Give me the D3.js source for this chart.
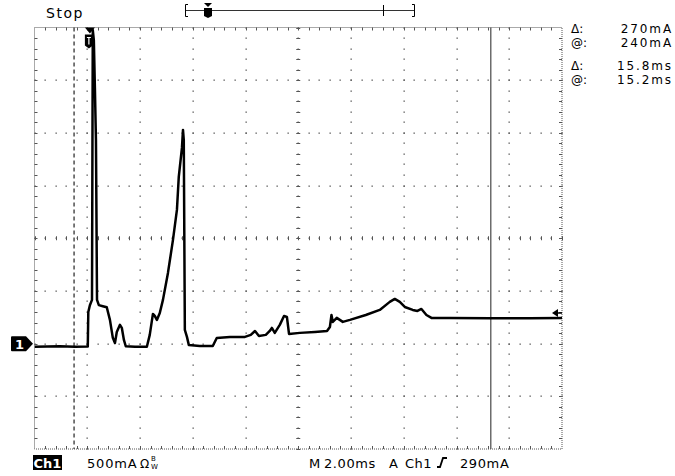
<!DOCTYPE html>
<html><head><meta charset="utf-8">
<script src="https://cdn.jsdelivr.net/npm/d3@7"></script>
<style>
html,body{margin:0;padding:0;background:#fff;}
svg{display:block;font-family:"DejaVu Sans","Liberation Sans",Arial,sans-serif;}
</style></head><body>
<svg id="scope" width="675" height="476"></svg>
<script>
// Channel 1 acquisition: current (mA) against time from the trigger point (ms)
const timeMs = [-2.1, -1.14, -0.57, -0.08, -0.06, 0.00, 0.08, 0.11, 0.15, 0.19, 0.23, 0.27,
  0.34, 0.49, 0.64, 0.76, 0.87, 0.95, 1.02, 1.14, 1.21, 1.29, 1.36, 1.71, 2.16, 2.27, 2.39,
  2.46, 2.54, 2.65, 2.77, 2.96, 3.15, 3.30, 3.37, 3.49, 3.53, 3.56, 3.60, 3.68, 3.75, 4.17,
  4.66, 4.81, 5.31, 5.88, 6.10, 6.26, 6.41, 6.67, 6.82, 6.90, 7.01, 7.20, 7.36, 7.47, 7.55,
  7.96, 8.53, 8.99, 9.10, 9.16, 9.21, 9.36, 9.59, 9.86, 10.46, 10.99, 11.37, 11.56, 11.75,
  11.94, 12.24, 12.42, 12.57, 12.76, 12.95, 13.65, 15.17, 16.68, 17.9];
const currentMa = [-30, -25, -30, -28, 300, 365, 415, 2976, 2880, 2425, 1930, 415,
  365, 355, 345, 225, 55, 5, 110, 178, 150, 35, -25, -30, -30, 83, 282,
  263, 225, 291, 415, 671, 984, 1269, 1582, 1857, 2028, 1933, 130, 64, -12, -22,
  -22, 54, 64, 64, 83, 120, 73, 83, 120, 149, 102, 178, 263, 253, 92,
  102, 111, 120, 158, 272, 206, 244, 206, 225, 272, 320, 396, 424, 396,
  348, 320, 310, 329, 272, 244, 244, 240, 240, 242];

const xDomainMs = [-2.1, 17.9];     // 2.00 ms/div, 10 divisions
const yDomainMa = [-1000, 3000];    // 500 mA/div, 8 divisions
const hDivs = 10, vDivs = 8, minorPerDiv = 5;
const cursorTimesMs = [-0.6, 15.2];
const triggerLevelMa = 290;
const readoutLabels = ["\u0394:", "@:", "\u0394:", "@:"];
const readoutValues = ["270mA", "240mA", "15.8ms", "15.2ms"];

const svg = d3.select("#scope");
const X0 = 34.5, X1 = 562, Y0 = 27.5, Y1 = 449;
const x = d3.scaleLinear().domain(xDomainMs).range([X0, X1]);
const y = d3.scaleLinear().domain(yDomainMa).range([Y1, Y0]);
const divX = d3.scaleLinear().domain([0, hDivs]).range([X0, X1]);
const divY = d3.scaleLinear().domain([0, vDivs]).range([Y0, Y1]);
const ink = "#000", gridInk = "#555";

// graticule dots along each interior division line
const g = svg.append("g");
const dots = [];
for (let i = 1; i < hDivs; i++) {
  for (let j = 0; j <= vDivs * minorPerDiv; j++) dots.push([divX(i), divY(j / minorPerDiv)]);
}
for (let j = 1; j < vDivs; j++) {
  for (let i = 0; i <= hDivs * minorPerDiv; i++) dots.push([divX(i / minorPerDiv), divY(j)]);
}
g.selectAll("rect.dot").data(dots).join("rect").attr("class", "dot")
  .attr("x", d => Math.round(d[0]) - 0.5).attr("y", d => Math.round(d[1]) - 0.5)
  .attr("width", 1.3).attr("height", 1.3).attr("fill", gridInk);

// centre crosshair minor ticks
const cx = divX(hDivs / 2), cy = divY(vDivs / 2);
for (let j = 0; j <= vDivs * minorPerDiv; j++) {
  const yy = Math.round(divY(j / minorPerDiv)) + 0.5;
  g.append("line").attr("x1", cx - 2).attr("x2", cx + 2).attr("y1", yy).attr("y2", yy)
    .attr("stroke", gridInk).attr("stroke-width", 1);
}
for (let i = 0; i <= hDivs * minorPerDiv; i++) {
  const xx = Math.round(divX(i / minorPerDiv)) + 0.5;
  g.append("line").attr("x1", xx).attr("x2", xx).attr("y1", cy - 2).attr("y2", cy + 2)
    .attr("stroke", gridInk).attr("stroke-width", 1);
}

// dotted border with inward minor ticks
g.append("rect").attr("x", X0).attr("y", Y0).attr("width", X1 - X0).attr("height", Y1 - Y0)
  .attr("fill", "none").attr("stroke", gridInk).attr("stroke-width", 1).attr("stroke-dasharray", "1,1");
for (let i = 1; i < hDivs * minorPerDiv; i++) {
  const xx = Math.round(divX(i / minorPerDiv)) + 0.5;
  g.append("line").attr("x1", xx).attr("x2", xx).attr("y1", Y0).attr("y2", Y0 + 3).attr("stroke", gridInk);
  g.append("line").attr("x1", xx).attr("x2", xx).attr("y1", Y1 - 3).attr("y2", Y1).attr("stroke", gridInk);
}
for (let j = 1; j < vDivs * minorPerDiv; j++) {
  const yy = Math.round(divY(j / minorPerDiv)) + 0.5;
  g.append("line").attr("x1", X0).attr("x2", X0 + 3).attr("y1", yy).attr("y2", yy).attr("stroke", gridInk);
  g.append("line").attr("x1", X1 - 3).attr("x2", X1).attr("y1", yy).attr("y2", yy).attr("stroke", gridInk);
}

// time cursors
svg.append("line").attr("x1", x(cursorTimesMs[0])).attr("x2", x(cursorTimesMs[0]))
  .attr("y1", Y0).attr("y2", Y1).attr("stroke", "#333").attr("stroke-width", 1.3)
  .attr("stroke-dasharray", "4,3");
svg.append("line").attr("x1", x(cursorTimesMs[1])).attr("x2", x(cursorTimesMs[1]))
  .attr("y1", Y0).attr("y2", Y1).attr("stroke", "#555").attr("stroke-width", 1.3);

// waveform
svg.append("clipPath").attr("id", "plotClip").append("rect")
  .attr("x", X0).attr("y", Y0).attr("width", X1 - X0).attr("height", Y1 - Y0);
const pts = timeMs.map((t, i) => [t, currentMa[i]]);
svg.append("path").datum(pts).attr("clip-path", "url(#plotClip)")
  .attr("d", d3.line().x(d => x(d[0])).y(d => y(d[1])))
  .attr("fill", "none").attr("stroke", ink).attr("stroke-width", 2.5).attr("stroke-linejoin", "round");

// trigger position marker
const tx = x(0);
svg.append("path").attr("d", `M${tx - 5},${Y0} L${tx + 5},${Y0} L${tx},${Y0 + 6} Z`).attr("fill", ink);
svg.append("path").attr("d", `M${tx - 5},${Y0 + 7} L${tx + 3},${Y0 + 7} L${tx + 3},${Y0 + 18} L${tx - 1},${Y0 + 21} L${tx - 5},${Y0 + 18} Z`).attr("fill", ink);
svg.append("path").attr("d", `M${tx - 3},${Y0 + 10} L${tx + 1},${Y0 + 10} M${tx - 1},${Y0 + 10} L${tx - 1},${Y0 + 17}`)
  .attr("stroke", "#fff").attr("stroke-width", 1.2);

// trigger level indicator
const ty = y(triggerLevelMa);
svg.append("path").attr("d", `M${X1 - 10},${ty} L${X1 - 4},${ty - 4} L${X1 - 4},${ty + 4} Z M${X1 - 5},${ty - 0.7} L${X1},${ty - 0.7} L${X1},${ty + 0.7} L${X1 - 5},${ty + 0.7} Z`).attr("fill", ink);

// ground reference marker
const gy = y(0);
svg.append("path").attr("d", `M12,${gy - 7.5} L26,${gy - 7.5} L33,${gy} L26,${gy + 7.5} L12,${gy + 7.5} Q11,${gy + 7.5} 11,${gy + 6.5} L11,${gy - 6.5} Q11,${gy - 7.5} 12,${gy - 7.5} Z`).attr("fill", ink);
svg.append("text").attr("x", 19.5).attr("y", gy + 5).attr("text-anchor", "middle")
  .attr("fill", "#fff").attr("font-size", 13).attr("font-weight", "bold").text("1");

// record view bar
const rb = svg.append("g").attr("stroke", ink).attr("stroke-width", 1).attr("fill", "none");
rb.append("line").attr("x1", 185.5).attr("x2", 414.5).attr("y1", 10.5).attr("y2", 10.5).attr("stroke", "#333");
rb.append("path").attr("d", "M188,4.5 L185.5,4.5 L185.5,16.5 L188,16.5");
rb.append("path").attr("d", "M412,4.5 L414.5,4.5 L414.5,16.5 L412,16.5");
rb.append("line").attr("x1", 383.5).attr("x2", 383.5).attr("y1", 5).attr("y2", 16);
svg.append("path").attr("d", "M204,3 L212,3 L208,7 Z M204,8 L212,8 L212,16 L208,18 L204,16 Z").attr("fill", ink);

const txt = (s, xx, yy, size, opts = {}) => svg.append("text").attr("x", xx).attr("y", yy)
  .attr("font-size", size).attr("fill", opts.fill || ink).attr("text-anchor", opts.anchor || "start")
  .attr("font-weight", opts.weight || "normal").attr("letter-spacing", opts.ls || 0).text(s);

txt("Stop", 46, 18, 14, {ls: 1.5});

// cursor readouts
const rowY = [33, 47, 69.5, 83.5];
readoutLabels.forEach((s, i) => txt(s, 571, rowY[i], 12));
readoutValues.forEach((s, i) => txt(s, 673, rowY[i], 12, {anchor: "end", ls: 1.9}));

// status line
svg.append("rect").attr("x", 33).attr("y", 455).attr("width", 29).attr("height", 15).attr("fill", ink);
txt("Ch1", 47.5, 467.5, 13, {fill: "#fff", anchor: "middle", weight: "bold"});
txt("500mA", 87, 468, 13, {ls: 0.8});
txt("\u03A9", 140, 468, 12);
txt("B", 151, 461, 7);
txt("W", 151, 469, 7);
txt("M", 309, 468, 13);
txt("2.00ms", 324, 468, 13, {ls: 0.6});
txt("A", 389, 468, 13);
txt("Ch1", 405, 468, 13, {ls: 0.5});
svg.append("path").attr("d", "M437,467 L440,467 L443,458 L447,458").attr("fill", "none")
  .attr("stroke", ink).attr("stroke-width", 1.8);
txt("290mA", 460, 468, 13, {ls: 0.6});
</script></body></html>
